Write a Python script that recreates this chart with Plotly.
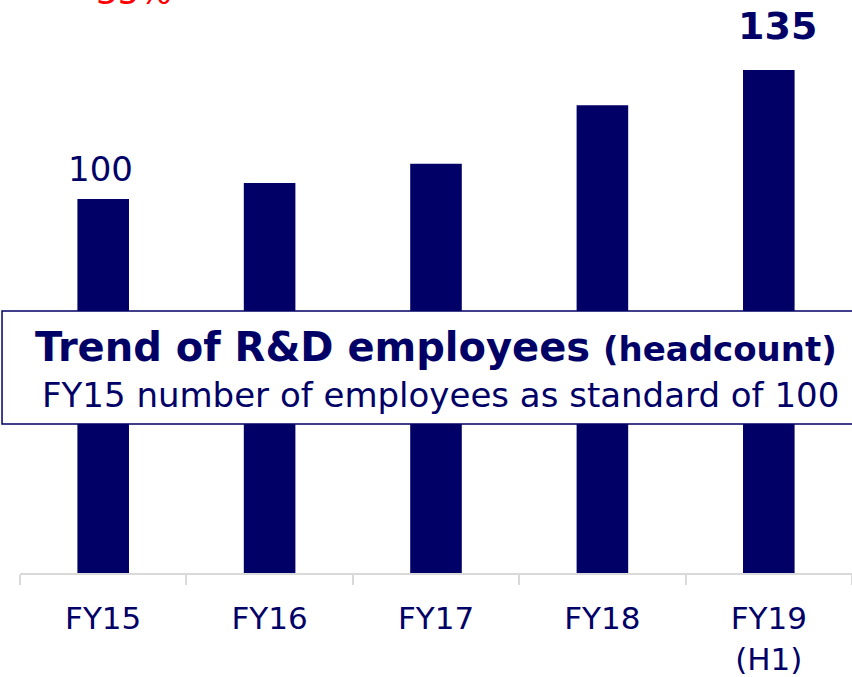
import plotly.graph_objects as go

categories = ["FY15", "FY16", "FY17", "FY18", "FY19<br>(H1)"]
values = [100, 104.3, 109.4, 125.1, 134.5]
value_labels = ["100", "", "", "", "<b>135</b>"]
label_sizes = [34, 34, 34, 34, 38]
label_yshift = [8, 8, 8, 8, 20]
label_xshift = [-3, 0, 0, 0, 9]

title_main = "Trend of R&D employees"
title_unit = "(headcount)"
subtitle = "FY15 number of employees as standard of 100"
top_note = "35%"

NAVY = "#000066"
FONT = "DejaVu Sans"

fig = go.Figure()
fig.add_trace(go.Bar(
    x=categories, y=values,
    marker=dict(color=NAVY, line=dict(width=0)),
    width=0.31,
    hoverinfo="skip",
))

for c, v, t, s, ys, xs in zip(categories, values, value_labels, label_sizes, label_yshift, label_xshift):
    if t:
        fig.add_annotation(x=c, y=v, text=t, showarrow=False,
                           xref="x", yref="y", yanchor="bottom",
                           yshift=ys, xshift=xs,
                           font=dict(family=FONT, size=s, color=NAVY))

fig.add_shape(type="rect", xref="paper", yref="paper",
              x0=-0.0216, x1=1.03, y0=0.2656, y1=0.467,
              fillcolor="white", line=dict(color=NAVY, width=1.5), layer="above")

fig.add_annotation(xref="paper", yref="paper", x=0.4994, y=0.415, yshift=-7,
                   text=f"<b>{title_main}</b> <b><span style='font-size:34px'>{title_unit}</span></b>",
                   showarrow=False, yanchor="middle",
                   font=dict(family=FONT, size=40, color=NAVY))
fig.add_annotation(xref="paper", yref="paper", x=0.505, y=0.325, yshift=-4,
                   text=subtitle, showarrow=False, yanchor="middle",
                   font=dict(family=FONT, size=34, color=NAVY))

fig.add_annotation(xref="paper", yref="paper", x=0.0895, y=1.0, yshift=-2,
                   text=top_note, showarrow=False, yanchor="bottom",
                   font=dict(family=FONT, size=34, color="#ff0000"))

fig.update_layout(
    width=852, height=677,
    margin=dict(l=20, r=0, t=12, b=104),
    plot_bgcolor="white", paper_bgcolor="white",
    showlegend=False,
    xaxis=dict(showline=True, linecolor="#d9d9d9", linewidth=2,
               ticks="outside", tickson="boundaries", ticklen=10,
               tickcolor="#d9d9d9", tickwidth=2,
               ticklabelstandoff=17,
               tickfont=dict(family=FONT, size=31, color=NAVY),
               showgrid=False, fixedrange=True),
    yaxis=dict(range=[0, 150], visible=False, showgrid=False, fixedrange=True),
)

fig.write_html("out.html", config={"displayModeBar": False},
               post_script="document.body.style.margin='0px';")
